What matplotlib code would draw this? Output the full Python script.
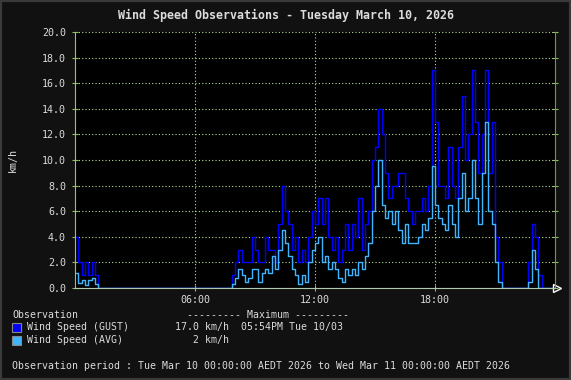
import numpy as np
import matplotlib.pyplot as plt
from matplotlib.patches import Rectangle

# 10-minute observations, km/h, 00:00 .. 23:50
gust = [
    4, 2, 1, 2, 1, 2,          # 00
    1, 0, 0, 0, 0, 0,          # 01
    0, 0, 0, 0, 0, 0,          # 02
    0, 0, 0, 0, 0, 0,          # 03
    0, 0, 0, 0, 0, 0,          # 04
    0, 0, 0, 0, 0, 0,          # 05
    0, 0, 0, 0, 0, 0,          # 06
    0, 0, 0, 0, 0, 1,          # 07
    2, 3, 2, 2, 2, 4,          # 08
    3, 2, 2, 4, 3, 3,          # 09
    2, 5, 8, 6, 5, 3,          # 10
    4, 2, 3, 2, 4, 6,          # 11
    5, 7, 5, 7, 4, 3,          # 12
    4, 2, 3, 5, 3, 5,          # 13
    4, 7, 3, 5, 6, 10,         # 14
    11, 14, 12, 9, 7, 8,       # 15
    8, 9, 9, 7, 6, 5,          # 16
    6, 6, 7, 6, 8, 17,         # 17
    13, 8, 8, 7, 11, 8,        # 18
    7, 11, 15, 10, 12, 17,     # 19
    13, 9, 12, 17, 9, 13,      # 20
    4, 2, 0, 0, 0, 0,          # 21
    0, 0, 0, 0, 2, 5,          # 22
    4, 1, 0, 0, 0, 0,          # 23
]
avg = [
    1.2, 0.4, 0.6, 0.2, 0.6, 0.8,
    0.3, 0, 0, 0, 0, 0,
    0, 0, 0, 0, 0, 0,
    0, 0, 0, 0, 0, 0,
    0, 0, 0, 0, 0, 0,
    0, 0, 0, 0, 0, 0,
    0, 0, 0, 0, 0, 0,
    0, 0, 0, 0, 0, 0.3,
    0.8, 1.5, 1.0, 0.5, 0.8, 1.5,
    1.5, 0.5, 1.2, 1.5, 1.2, 2.5,
    1.5, 3.0, 4.5, 3.5, 2.5, 1.5,
    1.0, 0.3, 1.0, 0.5, 2.0, 3.0,
    3.5, 4.0, 2.0, 2.5, 1.5, 2.0,
    1.5, 0.8, 0.5, 1.5, 1.0, 1.5,
    1.0, 2.0, 1.5, 2.5, 3.5, 6.0,
    8.0, 10.0, 6.5, 5.5, 6.0, 5.0,
    6.0, 4.5, 3.5, 5.0, 3.5, 3.5,
    3.5, 4.0, 5.0, 4.5, 5.5, 9.5,
    6.5, 5.5, 5.0, 4.5, 6.5, 5.0,
    4.0, 7.0, 9.0, 6.0, 7.0, 10.0,
    7.0, 5.0, 9.0, 13.0, 6.0, 5.0,
    2.0, 0.5, 0, 0, 0, 0,
    0, 0, 0, 0, 0.5, 3.0,
    1.5, 0, 0, 0, 0, 0,
]
y_ticks = [0, 2, 4, 6, 8, 10, 12, 14, 16, 18, 20]
x_ticks = [6, 12, 18]
x_labels = ["06:00", "12:00", "18:00"]

W, H = 571, 380
TXT = "#dcdcdc"
plt.rcParams["font.family"] = "DejaVu Sans Mono"


def fx(px):
    return px / W


def fy(py):
    return 1 - py / H


fig = plt.figure(figsize=(W / 100, H / 100), dpi=100, facecolor="#111111")
fig.patches.append(Rectangle((0, 0), 1, 1, transform=fig.transFigure,
                             fill=False, edgecolor="#3a3a3a", lw=3))

ax = fig.add_axes([fx(75), fy(288), fx(480), 256 / H], facecolor="black")

hours = np.arange(len(gust) + 1) / 6
ax.step(hours, gust + [gust[-1]], where="post", color="#0000ff", lw=1.0)
ax.step(hours, avg + [avg[-1]], where="post", color="#3fb4ff", lw=1.0)

ax.set_xlim(0, 24)
ax.set_ylim(0, 20)
ax.set_yticks(y_ticks)
ax.set_yticklabels([f"{v:.1f}" for v in y_ticks])
ax.set_xticks(x_ticks)
ax.set_xticklabels(x_labels)
ax.grid(True, color="#b8dc98", linestyle=(0, (1, 2)), lw=0.8)
ax.set_axisbelow(True)

ax.tick_params(axis="y", direction="inout", length=5, color="#8fbf60",
               labelcolor=TXT, labelsize=7.2, right=True, pad=4)
ax.tick_params(axis="x", direction="inout", length=4, color="#8fbf60",
               labelcolor=TXT, labelsize=7.2, pad=3)
ax.spines["left"].set_color("#9cc070")
ax.spines["right"].set_color("#8c8c40")
ax.spines["top"].set_visible(False)
ax.spines["bottom"].set_color("#b0c8b0")

# arrow head at the end of the time axis
ax.plot([24.12], [0], marker=">", ms=6, mfc="none", mec="white",
        mew=1, clip_on=False)

fig.text(fx(13), fy(160), "km/h", rotation=90, color=TXT, fontsize=7.2,
         ha="center", va="center")
fig.text(fx(286), fy(15), "Wind Speed Observations - Tuesday March 10, 2026",
         color=TXT, fontsize=8.4, fontweight="bold", ha="center", va="center")

# legend / summary block
fs = 7.1
fig.text(fx(12), fy(315), "Observation", color=TXT, fontsize=fs, va="center")
fig.text(fx(187), fy(315), "--------- Maximum ---------", color=TXT,
         fontsize=fs, va="center")
rows = [("Wind Speed (GUST)", "#0000ff", "17.0 km/h", "05:54PM Tue 10/03"),
        ("Wind Speed (AVG)", "#3fb4ff", "2 km/h", "")]
for i, (name, col, mx, when) in enumerate(rows):
    y = 327 + 13 * i
    fig.patches.append(Rectangle((fx(12), fy(y + 5)), fx(9), 9 / H,
                                 transform=fig.transFigure, facecolor=col,
                                 edgecolor="#888888", lw=0.8))
    fig.text(fx(27), fy(y), name, color=TXT, fontsize=fs, va="center")
    fig.text(fx(229), fy(y), mx, color=TXT, fontsize=fs, va="center", ha="right")
    fig.text(fx(241), fy(y), when, color=TXT, fontsize=fs, va="center")

fig.text(fx(12), fy(366),
         "Observation period : Tue Mar 10 00:00:00 AEDT 2026 to "
         "Wed Mar 11 00:00:00 AEDT 2026",
         color=TXT, fontsize=fs, va="center")

fig.savefig("out.png", dpi=100, facecolor=fig.get_facecolor())
